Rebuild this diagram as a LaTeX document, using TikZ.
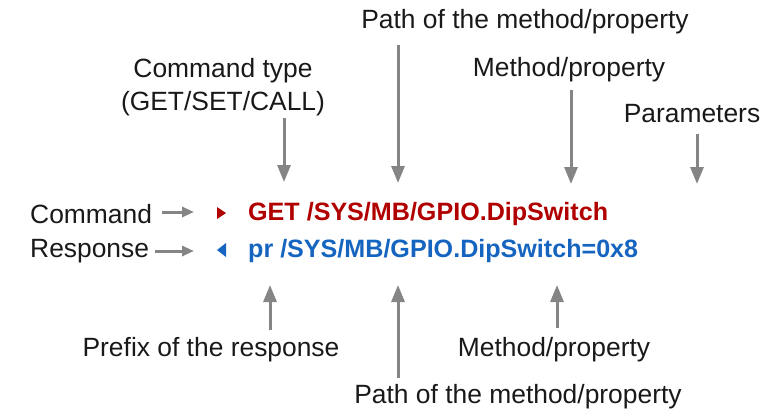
\documentclass[tikz,border=0pt]{standalone}
\usepackage{fontspec}
\setmainfont{Liberation Sans}
\usetikzlibrary{arrows.meta}
\definecolor{cmdred}{HTML}{B00000}
\definecolor{rspblue}{HTML}{1565C0}
\definecolor{arrgray}{HTML}{858585}
\tikzset{
  lbl/.style={inner sep=0pt, font=\fontsize{26.5}{33}\selectfont, text=black!90, align=center},
  code/.style={inner sep=0pt, anchor=west, font=\fontsize{25.2}{30}\selectfont\bfseries},
  pointer/.style={draw=arrgray, line width=3bp, -{Triangle[length=17bp,width=13bp]}},
  hpointer/.style={draw=arrgray, line width=3bp, -{Triangle[length=12bp,width=10bp]}},
}
\begin{document}
\begin{tikzpicture}[x=1bp,y=-1bp]
\useasboundingbox (0,0) rectangle (765,410);
% labels top
\node[lbl] (ptop) at (525,22) {Path of the method/property};
\node[lbl] (ctype) at (223,87) {Command type\\(GET/SET/CALL)};
\node[lbl] (mtop) at (569,70) {Method/property};
\node[lbl] (par) at (692,114) {Parameters};
% left labels
\node[lbl, anchor=west] (cmd) at (30,214) {Command};
\node[lbl, anchor=west] (rsp) at (30,251) {Response};
% code lines
\node[code, text=cmdred] (gl) at (248,214) {GET /SYS/MB/GPIO.DipSwitch};
\node[code, text=rspblue] (rl) at (248,251) {pr /SYS/MB/GPIO.DipSwitch=0x8};
% small triangles
\fill[cmdred] (217,207) -- (226,213) -- (217,219) -- cycle;
\fill[rspblue] (226,243) -- (217,250) -- (226,257) -- cycle;
% labels bottom
\node[lbl] (pref) at (211,350) {Prefix of the response};
\node[lbl] (mbot) at (554,350) {Method/property};
\node[lbl] (pbot) at (518,397) {Path of the method/property};
% coordinates
\coordinate (a1s) at (284,118); \coordinate (a1e) at (284,182);
\coordinate (a2s) at (398,45);  \coordinate (a2e) at (398,183);
\coordinate (a3s) at (571,90);  \coordinate (a3e) at (571,184);
\coordinate (a4s) at (697,134); \coordinate (a4e) at (697,184);
\coordinate (c1s) at (162,212); \coordinate (c1e) at (194,212);
\coordinate (c2s) at (155,251); \coordinate (c2e) at (194,251);
\coordinate (b1s) at (270,330); \coordinate (b1e) at (270,285);
\coordinate (b2s) at (398,378); \coordinate (b2e) at (398,285);
\coordinate (b3s) at (557,328); \coordinate (b3e) at (557,285);
% arrows
\draw[pointer] (a1s) -- (a1e);
\draw[pointer] (a2s) -- (a2e);
\draw[pointer] (a3s) -- (a3e);
\draw[pointer] (a4s) -- (a4e);
\draw[hpointer] (c1s) -- (c1e);
\draw[hpointer] (c2s) -- (c2e);
\draw[pointer] (b1s) -- (b1e);
\draw[pointer] (b2s) -- (b2e);
\draw[pointer] (b3s) -- (b3e);
\end{tikzpicture}
\end{document}
